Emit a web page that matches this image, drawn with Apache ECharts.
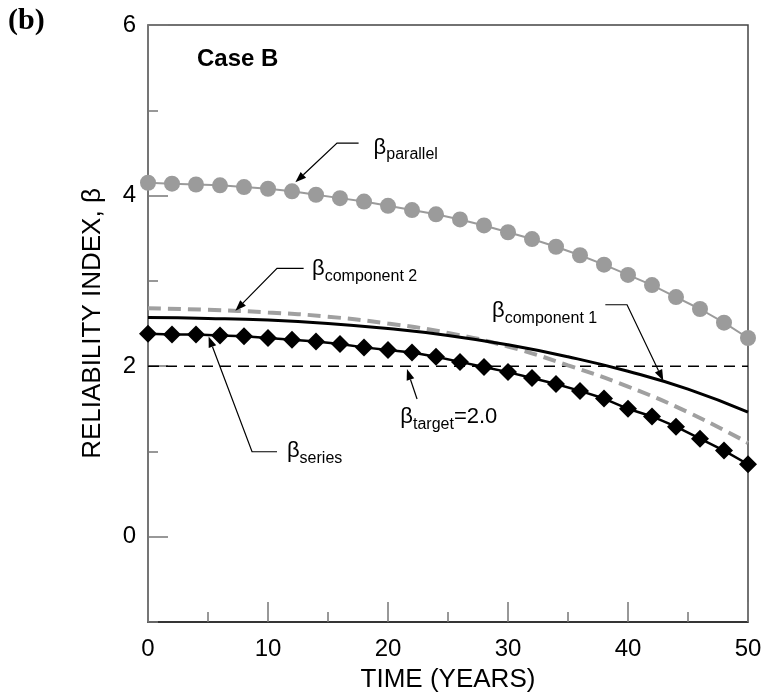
<!DOCTYPE html>
<html><head><meta charset="utf-8">
<script src="https://cdn.jsdelivr.net/npm/echarts@6/dist/echarts.min.js"></script>
<style>html,body{margin:0;padding:0;background:#fff}#c{width:765px;height:698px}</style>
</head><body><div id="c"></div>
<script>
// ---- data ----
const years = [0,2,4,6,8,10,12,14,16,18,20,22,24,26,28,30,32,34,36,38,40,42,44,46,48,50];
const betaParallel = [4.15,4.14,4.13,4.12,4.10,4.08,4.05,4.01,3.97,3.93,3.88,3.83,3.78,3.72,3.65,3.57,3.49,3.40,3.30,3.19,3.07,2.95,2.81,2.67,2.51,2.33];
const betaSeries = [2.38,2.37,2.37,2.36,2.35,2.33,2.31,2.29,2.26,2.22,2.19,2.16,2.11,2.05,1.99,1.93,1.86,1.79,1.71,1.62,1.50,1.41,1.29,1.15,1.01,0.85];
const compYears = [0,5,10,15,20,25,30,35,40,45,50];
const betaComponent1 = [2.57,2.56,2.54,2.50,2.44,2.36,2.25,2.11,1.94,1.73,1.46];
const betaComponent2 = [2.68,2.66,2.63,2.58,2.50,2.39,2.23,2.01,1.76,1.46,1.10];
const targetYears = [0,50];
const betaTarget = 2.0;
const yLabelValues = [0,2,4,6];
const xLabelValues = [0,10,20,30,40,50];

const FONT = '"Liberation Sans", Arial, sans-serif';
const chart = echarts.init(document.getElementById('c'), null, {renderer:'canvas'});

const pair = (xs, ys) => xs.map((x,i)=>[x, ys[i]]);

chart.setOption({
  animation:false,
  backgroundColor:'#fff',
  grid:{left:148,right:17,top:25,bottom:75,show:true,borderColor:'#444',borderWidth:1.5,backgroundColor:'transparent'},
  xAxis:{type:'value',min:0,max:50,interval:10,
    axisLine:{show:true,onZero:false,lineStyle:{color:'#222',width:1.5}},
    axisTick:{show:true,inside:true,length:20,lineStyle:{color:'#777',width:1.5}},
    minorTick:{show:true,splitNumber:2,length:10,lineStyle:{color:'#777',width:1.5}},
    splitLine:{show:false},
    axisLabel:{fontSize:24,color:'#000',margin:15,fontFamily:FONT,customValues:xLabelValues},
    name:'TIME (YEARS)',nameLocation:'middle',nameGap:45,
    nameTextStyle:{fontSize:26,color:'#000',fontFamily:FONT}},
  yAxis:[
    {type:'value',min:-1,max:6,interval:1,
     axisLine:{show:true,onZero:false,lineStyle:{color:'#777',width:1.5}},
     axisTick:{show:true,inside:true,length:10,lineStyle:{color:'#777',width:1.5}},
     axisLabel:{show:false},splitLine:{show:false}},
    {type:'value',min:-1,max:6,interval:1,position:'left',
     axisLine:{show:false,onZero:false},
     axisTick:{show:true,inside:true,length:20,customValues:yLabelValues,lineStyle:{color:'#777',width:1.5}},
     axisLabel:{show:true,customValues:yLabelValues,fontSize:24,color:'#000',margin:12,fontFamily:FONT},
     splitLine:{show:false},
     name:'RELIABILITY INDEX, β',nameLocation:'middle',nameGap:42,
     nameTextStyle:{fontSize:26,color:'#000',fontFamily:FONT}}
  ],
  series:[
    {name:'parallel',type:'line',data:pair(years,betaParallel),symbol:'circle',symbolSize:16,clip:false,z:4,
     itemStyle:{color:'#9b9b9b'},lineStyle:{color:'#9b9b9b',width:2}},
    {name:'series',type:'line',data:pair(years,betaSeries),symbol:'diamond',symbolSize:18,clip:false,z:5,
     itemStyle:{color:'#000'},lineStyle:{color:'#000',width:2.5}},
    {name:'component1',type:'line',data:pair(compYears,betaComponent1),symbol:'none',smooth:true,z:3,
     lineStyle:{color:'#000',width:3}},
    {name:'component2',type:'line',data:pair(compYears,betaComponent2),symbol:'none',smooth:true,z:2,
     lineStyle:{color:'#a0a0a0',width:4,type:[13,7]}},
    {name:'target',type:'line',data:targetYears.map(x=>[x,betaTarget]),symbol:'none',z:1,
     lineStyle:{color:'#000',width:1.5,type:[11,7]}}
  ]
});

// ---- annotations (anchored in data coordinates) ----
const annotations = [
  {sub:'parallel', tail:'', text:[18.80,4.564], path:[[17.55,4.615],[15.75,4.615],[12.28,4.155]]},
  {sub:'component 2', tail:'', text:[13.67,3.137], path:[[12.97,3.147],[10.75,3.147],[7.28,2.649]]},
  {sub:'component 1', tail:'', text:[28.67,2.649], path:[[38.11,2.720],[39.92,2.720],[42.94,1.829]]},
  {sub:'target', tail:'=2.0', text:[21.03,1.399], path:[[22.42,1.614],[21.58,1.966]]},
  {sub:'series', tail:'', text:[11.58,1.005], path:[[10.75,0.996],[8.67,0.996],[5.05,2.349]]}
];
const ctx = document.createElement('canvas').getContext('2d');
function tw(s, size){ ctx.font = size+'px '+FONT; return ctx.measureText(s).width; }
const toPx = p => chart.convertToPixel({seriesIndex:0}, p);

const els = [];
els.push({type:'text',x:8,y:6,style:{text:'(b)',font:'bold 30px "Liberation Serif", "Times New Roman", serif',fill:'#000'}});
els.push({type:'text',x:197,y:47,style:{text:'Case B',font:'bold 24px '+FONT,fill:'#000'}});

annotations.forEach(a=>{
  const pts = a.path.map(toPx);
  const tip = pts[pts.length-1], prev = pts[pts.length-2];
  let dx = tip[0]-prev[0], dy = tip[1]-prev[1];
  const len = Math.hypot(dx,dy); dx/=len; dy/=len;
  const L = 11, W = 4;
  const base = [tip[0]-dx*L, tip[1]-dy*L];
  const linePts = pts.slice(0,-1).concat([base]);
  els.push({type:'polyline',shape:{points:linePts},style:{stroke:'#000',lineWidth:1.2,fill:null},z:10});
  els.push({type:'polygon',shape:{points:[tip,[base[0]-dy*W,base[1]+dx*W],[base[0]+dy*W,base[1]-dx*W]]},style:{fill:'#000'},z:10});
  const tp = toPx(a.text);
  const bw = tw('β',22), sw = tw(a.sub,16);
  els.push({type:'text',x:tp[0],y:tp[1],z:10,style:{text:'β',font:'22px '+FONT,fill:'#000',verticalAlign:'middle',align:'left'}});
  els.push({type:'text',x:tp[0]+bw,y:tp[1]+7.5,z:10,style:{text:a.sub,font:'16px '+FONT,fill:'#000',verticalAlign:'middle',align:'left'}});
  if(a.tail) els.push({type:'text',x:tp[0]+bw+sw,y:tp[1],z:10,style:{text:a.tail,font:'22px '+FONT,fill:'#000',verticalAlign:'middle',align:'left'}});
});
chart.setOption({graphic:{elements:els}});
</script>
</body></html>
